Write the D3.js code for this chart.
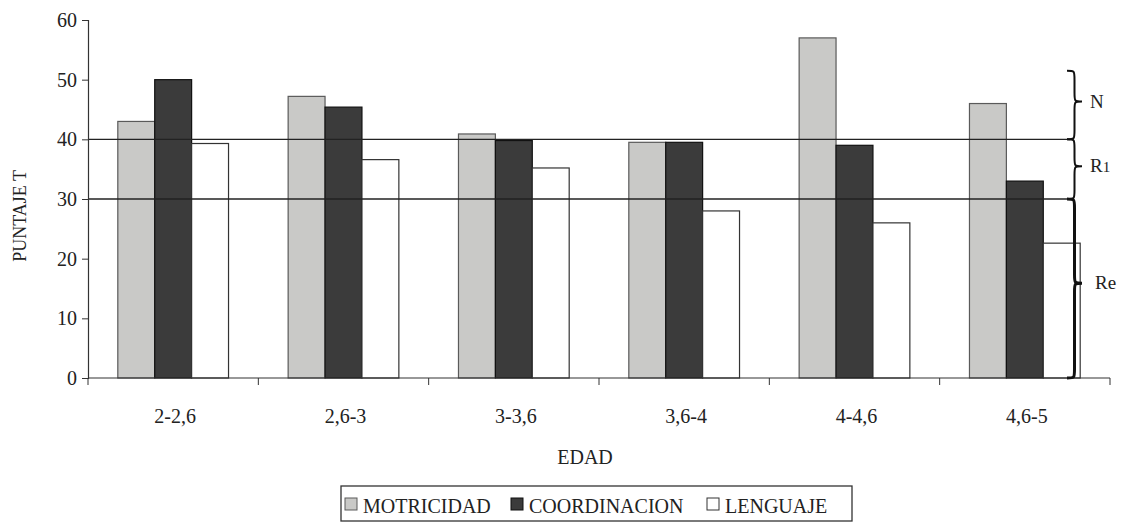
<!DOCTYPE html>
<html>
<head>
<meta charset="utf-8">
<script src="https://cdn.jsdelivr.net/npm/d3@7"></script>
<style>
  body { margin: 0; background: #fff; }
  svg text { font-family: "Liberation Serif", "Times New Roman", Tinos, "Nimbus Roman", "DejaVu Serif", serif; fill: #222; }
</style>
</head>
<body>
<div id="chart"></div>
<script>
const categories = ["2-2,6", "2,6-3", "3-3,6", "3,6-4", "4-4,6", "4,6-5"]
const seriesNames = ["MOTRICIDAD", "COORDINACION", "LENGUAJE"]
const motricidad = [43, 47.2, 40.9, 39.5, 57, 46]
const coordinacion = [50, 45.4, 39.8, 39.5, 39, 33]
const lenguaje = [39.3, 36.6, 35.2, 28, 26, 22.6]
const yTicks = [0, 10, 20, 30, 40, 50, 60]
const refLines = [40, 30]
const zones = [
  { label: "N", sub: "", from: 40, to: 51.5 },
  { label: "R", sub: "1", from: 30, to: 40 },
  { label: "Re", sub: "", from: 0, to: 30 }
]

const width = 1121
const height = 524
const serif = "'Liberation Serif', 'Times New Roman', Tinos, 'Nimbus Roman', 'DejaVu Serif', serif"
const colors = ["#c9c9c7", "#3b3b3b", "#ffffff"]
const strokes = ["#5a5a5a", "#111", "#333"]

const svg = d3.select("#chart")
  .append("svg")
  .attr("width", width)
  .attr("height", height)
  .attr("font-family", serif)

const x = d3.scaleBand()
  .domain(categories)
  .range([88, 1110])
  .paddingInner(0.35)
  .paddingOuter(0.175)

const xs = d3.scaleBand()
  .domain(seriesNames)
  .range([0, x.bandwidth()])

const y = d3.scaleLinear()
  .domain([0, 60])
  .range([378, 20])

const values = [motricidad, coordinacion, lenguaje]
const rows = categories.map((c, i) => ({ cat: c, vals: values.map(v => v[i]) }))

// bars
const groups = svg.selectAll("g.group")
  .data(rows)
  .enter()
    .append("g")
    .attr("class", "group")
    .attr("transform", d => `translate(${x(d.cat)},0)`)

groups.selectAll("rect")
  .data(d => d.vals.map((v, j) => ({ name: seriesNames[j], v, j })))
  .enter()
    .append("rect")
    .attr("x", d => xs(d.name))
    .attr("y", d => y(d.v))
    .attr("width", xs.bandwidth())
    .attr("height", d => y(0) - y(d.v))
    .attr("fill", d => colors[d.j])
    .attr("stroke", d => strokes[d.j])
    .attr("stroke-width", 1.2)

// reference lines over bars
svg.selectAll("line.ref")
  .data(refLines)
  .enter()
    .append("line")
    .attr("class", "ref")
    .attr("x1", 88)
    .attr("x2", 1067)
    .attr("y1", d => y(d))
    .attr("y2", d => y(d))
    .attr("stroke", "#222")
    .attr("stroke-width", 1.3)

// axes
const yAxis = d3.axisLeft(y).tickValues(yTicks).tickSize(6).tickPadding(5)
const gy = svg.append("g").attr("transform", "translate(88,0)").call(yAxis)
gy.attr("font-family", serif)
gy.select(".domain").attr("stroke", "#333").attr("stroke-width", 1.2)
gy.selectAll(".tick line").attr("stroke", "#333")
gy.selectAll(".tick text").attr("font-size", 20).attr("fill", "#222")

const xBounds = x.domain().map(c => x(c) - x.step() * x.paddingInner() / 2)
xBounds.push(1110)
svg.append("line")
  .attr("x1", 88).attr("x2", 1110)
  .attr("y1", y(0)).attr("y2", y(0))
  .attr("stroke", "#333").attr("stroke-width", 1.2)
svg.selectAll("line.xtick")
  .data(xBounds)
  .enter()
    .append("line")
    .attr("class", "xtick")
    .attr("x1", d => d).attr("x2", d => d)
    .attr("y1", y(0)).attr("y2", y(0) + 7)
    .attr("stroke", "#333")
svg.selectAll("text.xlabel")
  .data(categories)
  .enter()
    .append("text")
    .attr("class", "xlabel")
    .attr("x", d => x(d) + x.bandwidth() / 2 + 2)
    .attr("y", 423)
    .attr("text-anchor", "middle")
    .attr("font-size", 20)
    .text(d => d)

// axis titles
svg.append("text")
  .attr("x", 585)
  .attr("y", 464)
  .attr("text-anchor", "middle")
  .attr("font-size", 20)
  .text("EDAD")
svg.append("text")
  .attr("transform", "translate(26,216) rotate(-90)")
  .attr("text-anchor", "middle")
  .attr("font-size", 18)
  .text("PUNTAJE T")

// braces, tip placed at "tip" fraction from the top
const brace = (bx, y0, y1, w, tip) => {
  const r = Math.min(9, (y1 - y0) / 4)
  const m = y0 + (y1 - y0) * tip
  const xm = bx + w / 2
  return `M${bx},${y0} C${xm},${y0} ${xm},${y0} ${xm},${y0 + r}` +
    ` L${xm},${m - r} C${xm},${m} ${xm},${m} ${bx + w},${m}` +
    ` C${xm},${m} ${xm},${m} ${xm},${m + r}` +
    ` L${xm},${y1 - r} C${xm},${y1} ${xm},${y1} ${bx},${y1}`
}
const tips = [0.45, 0.45, 0.47]
svg.selectAll("path.brace")
  .data(zones)
  .enter()
    .append("path")
    .attr("class", "brace")
    .attr("d", (d, i) => brace(1067, y(d.to), y(d.from), 15, tips[i]))
    .attr("fill", "none")
    .attr("stroke", "#111")
    .attr("stroke-width", (d, i) => i === 2 ? 3 : 2)

const zoneText = svg.selectAll("text.zone")
  .data(zones)
  .enter()
    .append("text")
    .attr("class", "zone")
    .attr("x", (d, i) => i === 2 ? 1095 : 1090)
    .attr("y", (d, i) => y(d.to) + (y(d.from) - y(d.to)) * tips[i] + 6)
    .attr("font-size", 19)
    .text(d => d.label)
zoneText.append("tspan")
  .attr("font-size", 15)
  .text(d => d.sub)

// legend
const legend = svg.append("g")
svg.append("rect")
  .attr("x", 341).attr("y", 486)
  .attr("width", 511).attr("height", 35)
  .attr("fill", "none")
  .attr("stroke", "#333")
  .attr("stroke-width", 1.3)
const legendX = [345, 511, 707]
const items = legend.selectAll("g")
  .data(seriesNames)
  .enter()
    .append("g")
    .attr("transform", (d, i) => `translate(${legendX[i]},0)`)
items.append("rect")
  .attr("x", 0).attr("y", 498)
  .attr("width", 12).attr("height", 12)
  .attr("fill", (d, i) => colors[i])
  .attr("stroke", (d, i) => strokes[i])
items.append("text")
  .attr("x", 18)
  .attr("y", 513)
  .attr("font-size", 20)
  .text(d => d)
</script>
</body>
</html>
